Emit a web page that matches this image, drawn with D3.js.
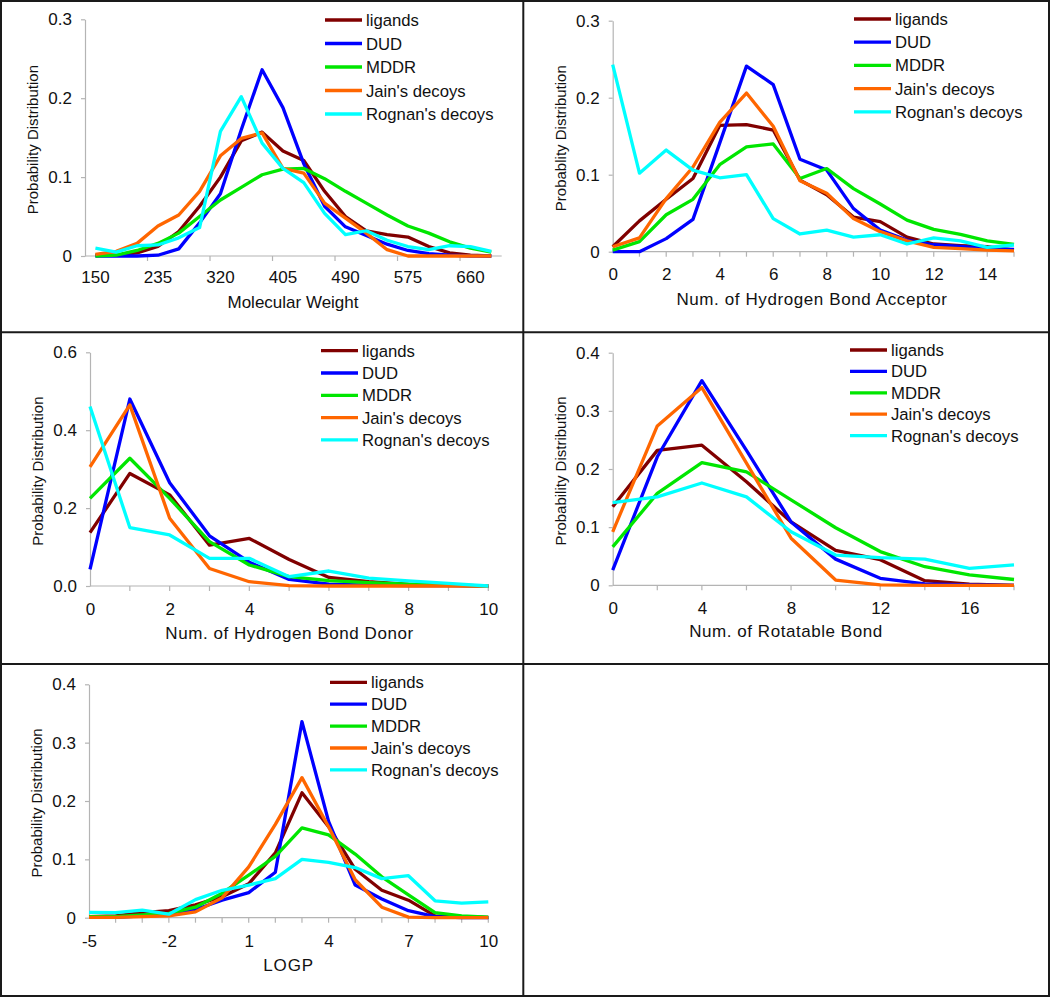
<!DOCTYPE html>
<html>
<head>
<meta charset="utf-8">
<script src="https://cdn.jsdelivr.net/npm/d3@7/dist/d3.min.js"></script>
<style>
  body { margin: 0; background: #fff; }
  svg { display: block; font-family: "Liberation Sans", Arial, sans-serif; }
  .axis path, .axis line { stroke: #b4b4b4; stroke-width: 1.2; }
  .axis text { fill: #111; font-size: 17px; font-family: "Liberation Sans", Arial, sans-serif; }
</style>
</head>
<body>
<svg id="chart" width="1050" height="997"></svg>
<script>
// series shared by every panel
const seriesNames = ["ligands", "DUD", "MDDR", "Jain's decoys", "Rognan's decoys"];
const seriesColors = ["#800000", "#0000ff", "#00e600", "#ff6600", "#00ffff"];

// Molecular weight (category axis, points in the middle of each bin)
const mwBins = [150, 178, 207, 235, 263, 292, 320, 348, 377, 405, 433, 462, 490, 518, 547, 575, 603, 632, 660, 688];
const mwLigands = [0.001, 0.001, 0.004, 0.012, 0.031, 0.063, 0.100, 0.146, 0.157, 0.133, 0.121, 0.082, 0.050, 0.032, 0.027, 0.024, 0.012, 0.004, 0.001, 0.000];
const mwDUD     = [0.000, 0.000, 0.000, 0.001, 0.009, 0.042, 0.079, 0.160, 0.236, 0.188, 0.117, 0.063, 0.037, 0.026, 0.015, 0.007, 0.003, 0.001, 0.000, 0.000];
const mwMDDR    = [0.000, 0.001, 0.007, 0.016, 0.029, 0.050, 0.071, 0.087, 0.103, 0.110, 0.111, 0.098, 0.082, 0.067, 0.052, 0.038, 0.029, 0.018, 0.010, 0.005];
const mwJain    = [0.002, 0.006, 0.016, 0.038, 0.052, 0.082, 0.127, 0.149, 0.156, 0.111, 0.105, 0.067, 0.048, 0.029, 0.008, 0.000, 0.000, 0.000, 0.000, 0.000];
const mwRognan  = [0.010, 0.005, 0.013, 0.014, 0.023, 0.036, 0.158, 0.202, 0.143, 0.111, 0.093, 0.054, 0.027, 0.032, 0.020, 0.012, 0.008, 0.013, 0.012, 0.006];
const mwYTicks = [0, 0.1, 0.2, 0.3];

// Hydrogen bond acceptor
const hbaCats = [0, 1, 2, 3, 4, 5, 6, 7, 8, 9, 10, 11, 12, 13, 14, 15];
const hbaLigands = [0.0065, 0.040, 0.068, 0.095, 0.164, 0.165, 0.158, 0.093, 0.074, 0.045, 0.039, 0.019, 0.010, 0.008, 0.0065, 0.002];
const hbaDUD     = [0.000, 0.000, 0.017, 0.042, 0.141, 0.241, 0.217, 0.120, 0.106, 0.056, 0.028, 0.015, 0.009, 0.007, 0.004, 0.003];
const hbaMDDR    = [0.002, 0.013, 0.048, 0.068, 0.113, 0.136, 0.140, 0.095, 0.108, 0.082, 0.062, 0.041, 0.029, 0.0225, 0.014, 0.0095];
const hbaJain    = [0.0065, 0.018, 0.069, 0.110, 0.168, 0.206, 0.163, 0.092, 0.076, 0.043, 0.026, 0.014, 0.0056, 0.004, 0.002, 0.001];
const hbaRognan  = [0.243, 0.102, 0.132, 0.106, 0.096, 0.100, 0.043, 0.023, 0.028, 0.019, 0.022, 0.010, 0.018, 0.014, 0.0056, 0.0087];
const hbaYTicks = [0, 0.1, 0.2, 0.3];

// Hydrogen bond donor
const hbdCats = [0, 1, 2, 3, 4, 5, 6, 7, 8, 9, 10];
const hbdLigands = [0.137, 0.289, 0.234, 0.105, 0.122, 0.068, 0.022, 0.011, 0.004, 0.0025, 0.000];
const hbdDUD     = [0.043, 0.480, 0.265, 0.129, 0.061, 0.017, 0.005, 0.0025, 0.001, 0.001, 0.000];
const hbdMDDR    = [0.225, 0.328, 0.225, 0.114, 0.054, 0.024, 0.014, 0.0086, 0.005, 0.0025, 0.000];
const hbdJain    = [0.306, 0.465, 0.174, 0.045, 0.011, 0.001, 0.000, 0.000, 0.000, 0.000, 0.000];
const hbdRognan  = [0.461, 0.150, 0.131, 0.071, 0.071, 0.024, 0.0385, 0.020, 0.013, 0.007, 0.000];
const hbdYTicks = [0, 0.2, 0.4, 0.6];

// Rotatable bonds
const rbCats = [0, 2, 4, 6, 8, 10, 12, 14, 16, 18];
const rbLigands = [0.135, 0.232, 0.241, 0.178, 0.109, 0.060, 0.044, 0.008, 0.002, 0.000];
const rbDUD     = [0.026, 0.221, 0.352, 0.232, 0.109, 0.045, 0.012, 0.0023, 0.0006, 0.000];
const rbMDDR    = [0.066, 0.158, 0.211, 0.195, 0.147, 0.099, 0.058, 0.032, 0.018, 0.010];
const rbJain    = [0.092, 0.274, 0.340, 0.210, 0.081, 0.009, 0.0006, 0.000, 0.000, 0.000];
const rbRognan  = [0.142, 0.152, 0.176, 0.152, 0.092, 0.052, 0.0475, 0.045, 0.029, 0.035];
const rbYTicks = [0, 0.1, 0.2, 0.3, 0.4];

// LOGP
const logpCats = [-5, -4, -3, -2, -1, 0, 1, 2, 3, 4, 5, 6, 7, 8, 9, 10];
const logpLigands = [0.002, 0.003, 0.0086, 0.012, 0.022, 0.036, 0.058, 0.111, 0.214, 0.156, 0.083, 0.047, 0.030, 0.003, 0.002, 0.0006];
const logpDUD     = [0.0006, 0.0006, 0.003, 0.0046, 0.014, 0.030, 0.043, 0.078, 0.336, 0.165, 0.056, 0.032, 0.012, 0.002, 0.000, 0.000];
const logpMDDR    = [0.002, 0.002, 0.0046, 0.0074, 0.018, 0.042, 0.073, 0.105, 0.154, 0.142, 0.109, 0.070, 0.039, 0.0086, 0.003, 0.001];
const logpJain    = [0.0006, 0.0006, 0.002, 0.003, 0.010, 0.034, 0.087, 0.160, 0.240, 0.156, 0.065, 0.018, 0.001, 0.000, 0.000, 0.000];
const logpRognan  = [0.009, 0.0086, 0.013, 0.006, 0.031, 0.047, 0.056, 0.067, 0.100, 0.095, 0.086, 0.067, 0.072, 0.029, 0.025, 0.027];
const logpYTicks = [0, 0.1, 0.2, 0.3, 0.4];

const svg = d3.select('#chart');

// Panel definitions: data + where each one sits on the page
const panels = [
    { cats: mwBins, series: [mwLigands, mwDUD, mwMDDR, mwJain, mwRognan], yTicks: mwYTicks,
      band: true, labelEvery: 3, tickEvery: 3, yFmt: d => d === 0 ? '0' : d3.format('.1f')(d),
      xTitle: 'Molecular Weight', yTitle: 'Probability Distribution',
      left: 85, right: 501.7, top: 19.3, bottom: 256, xLabelPad: 14.5, titleX: 293, titleDy: 51.5, titleSpacing: 0,
      legX: 325, legY: 20, legStep: 23.5 },
    { cats: hbaCats, series: [hbaLigands, hbaDUD, hbaMDDR, hbaJain, hbaRognan], yTicks: hbaYTicks,
      band: false, labelEvery: 2, tickEvery: 1, yFmt: d => d === 0 ? '0' : d3.format('.1f')(d),
      xTitle: 'Num. of Hydrogen Bond Acceptor', yTitle: 'Probablity Distribution',
      left: 612.7, right: 1014, top: 20.7, bottom: 251.7, xLabelPad: 16.5, titleX: 812, titleDy: 53, titleSpacing: 0.6,
      legX: 854, legY: 19, legStep: 23.2 },
    { cats: hbdCats, series: [hbdLigands, hbdDUD, hbdMDDR, hbdJain, hbdRognan], yTicks: hbdYTicks,
      band: false, labelEvery: 2, tickEvery: 1, yFmt: d3.format('.1f'),
      xTitle: 'Num. of Hydrogen Bond Donor', yTitle: 'Probability Distribution',
      left: 90, right: 488.3, top: 352.3, bottom: 586, xLabelPad: 17, titleX: 289.5, titleDy: 53, titleSpacing: 0.55,
      legX: 321, legY: 350.7, legStep: 22.3 },
    { cats: rbCats, series: [rbLigands, rbDUD, rbMDDR, rbJain, rbRognan], yTicks: rbYTicks,
      band: false, labelEvery: 2, tickEvery: 1, yFmt: d => d === 0 ? '0' : d3.format('.1f')(d),
      xTitle: 'Num. of Rotatable Bond', yTitle: 'Probability Distribution',
      left: 612.7, right: 1014, top: 352.7, bottom: 585.3, xLabelPad: 16.5, titleX: 786, titleDy: 51.5, titleSpacing: 0.55,
      legX: 850, legY: 350, legStep: 21.4 },
    { cats: logpCats, series: [logpLigands, logpDUD, logpMDDR, logpJain, logpRognan], yTicks: logpYTicks,
      band: false, labelEvery: 3, tickEvery: 1, yFmt: d => d === 0 ? '0' : d3.format('.1f')(d),
      xTitle: 'LOGP', yTitle: 'Probability Distribution',
      left: 89, right: 488.3, top: 684.3, bottom: 917.7, xLabelPad: 17.5, titleX: 288.7, titleDy: 53, titleSpacing: 0.9,
      legX: 330, legY: 682.3, legStep: 21.9 }
];

function drawPanel(p) {
    const g = svg.append('g');
    const y = d3.scaleLinear()
        .domain([0, d3.max(p.yTicks)])
        .range([p.bottom, p.top]);

    let x, xc;
    if (p.band) {
        x = d3.scaleBand().domain(p.cats).range([p.left, p.right]).padding(0);
        xc = c => x(c) + x.bandwidth() / 2;
    } else {
        x = d3.scalePoint().domain(p.cats).range([p.left, p.right]).padding(0);
        xc = c => x(c);
    }

    // x axis labels (centered on categories)
    const labelled = p.cats.filter((c, i) => i % p.labelEvery === 0);
    const xAxis = g.append('g')
        .attr('class', 'axis')
        .attr('transform', `translate(0,${p.bottom})`)
        .call(d3.axisBottom(x).tickValues(labelled).tickSize(0).tickSizeOuter(0).tickPadding(p.xLabelPad));
    xAxis.select('.domain').remove();

    // x axis line and tick marks
    g.append('line')
        .attr('x1', p.left).attr('x2', p.right)
        .attr('y1', p.bottom).attr('y2', p.bottom)
        .attr('stroke', '#b4b4b4').attr('stroke-width', 1.2);

    const tickCats = p.cats.filter((c, i) => i > 0 && i % p.tickEvery === 0);
    g.selectAll('.xtick')
        .data(tickCats)
        .enter()
        .append('line')
        .attr('class', 'xtick')
        .attr('x1', d => p.band ? x(d) : xc(d))
        .attr('x2', d => p.band ? x(d) : xc(d))
        .attr('y1', p.bottom)
        .attr('y2', p.bottom + 5)
        .attr('stroke', '#b4b4b4').attr('stroke-width', 1.2);

    // y axis
    g.append('g')
        .attr('class', 'axis')
        .attr('transform', `translate(${p.left},0)`)
        .call(d3.axisLeft(y).tickValues(p.yTicks).tickFormat(p.yFmt).tickSize(4).tickSizeOuter(0).tickPadding(9));

    // series lines
    const line = d3.line()
        .x((d, i) => xc(p.cats[i]))
        .y(d => y(d));

    p.series.forEach((values, si) => {
        g.append('path')
            .datum(values)
            .attr('d', line)
            .attr('fill', 'none')
            .attr('stroke', seriesColors[si])
            .attr('stroke-width', 3.3)
            .attr('stroke-linejoin', 'round');
    });

    // axis titles
    g.append('text')
        .attr('x', p.titleX)
        .attr('y', p.bottom + p.titleDy)
        .attr('text-anchor', 'middle')
        .attr('font-size', 17)
        .attr('letter-spacing', p.titleSpacing)
        .attr('fill', '#111')
        .text(p.xTitle);

    const yMid = (p.top + p.bottom) / 2 + 2;
    const yTitleX = p.left - 52;
    g.append('text')
        .attr('transform', `translate(${yTitleX},${yMid}) rotate(-90)`)
        .attr('text-anchor', 'middle')
        .attr('dy', '0.35em')
        .attr('font-size', 15)
        .attr('fill', '#111')
        .text(p.yTitle);

    // legend
    seriesNames.forEach((name, si) => {
        const ly = p.legY + si * p.legStep;
        g.append('line')
            .attr('x1', p.legX).attr('x2', p.legX + 37)
            .attr('y1', ly).attr('y2', ly)
            .attr('stroke', seriesColors[si])
            .attr('stroke-width', 3.3);
        g.append('text')
            .attr('x', p.legX + 41)
            .attr('y', ly)
            .attr('dy', '0.36em')
            .attr('font-size', 16.7)
            .attr('fill', '#111')
            .text(name);
    });
}

panels.forEach(drawPanel);

// panel frames
const frameX = [1, 523.3, 1049];
const frameY = [1, 332.3, 664, 996];
frameX.forEach(fx => {
    svg.append('line').attr('x1', fx).attr('x2', fx).attr('y1', 0).attr('y2', 997)
        .attr('stroke', '#1a1a1a').attr('stroke-width', 2);
});
frameY.forEach(fy => {
    svg.append('line').attr('x1', 0).attr('x2', 1050).attr('y1', fy).attr('y2', fy)
        .attr('stroke', '#1a1a1a').attr('stroke-width', 2);
});
</script>
</body>
</html>
